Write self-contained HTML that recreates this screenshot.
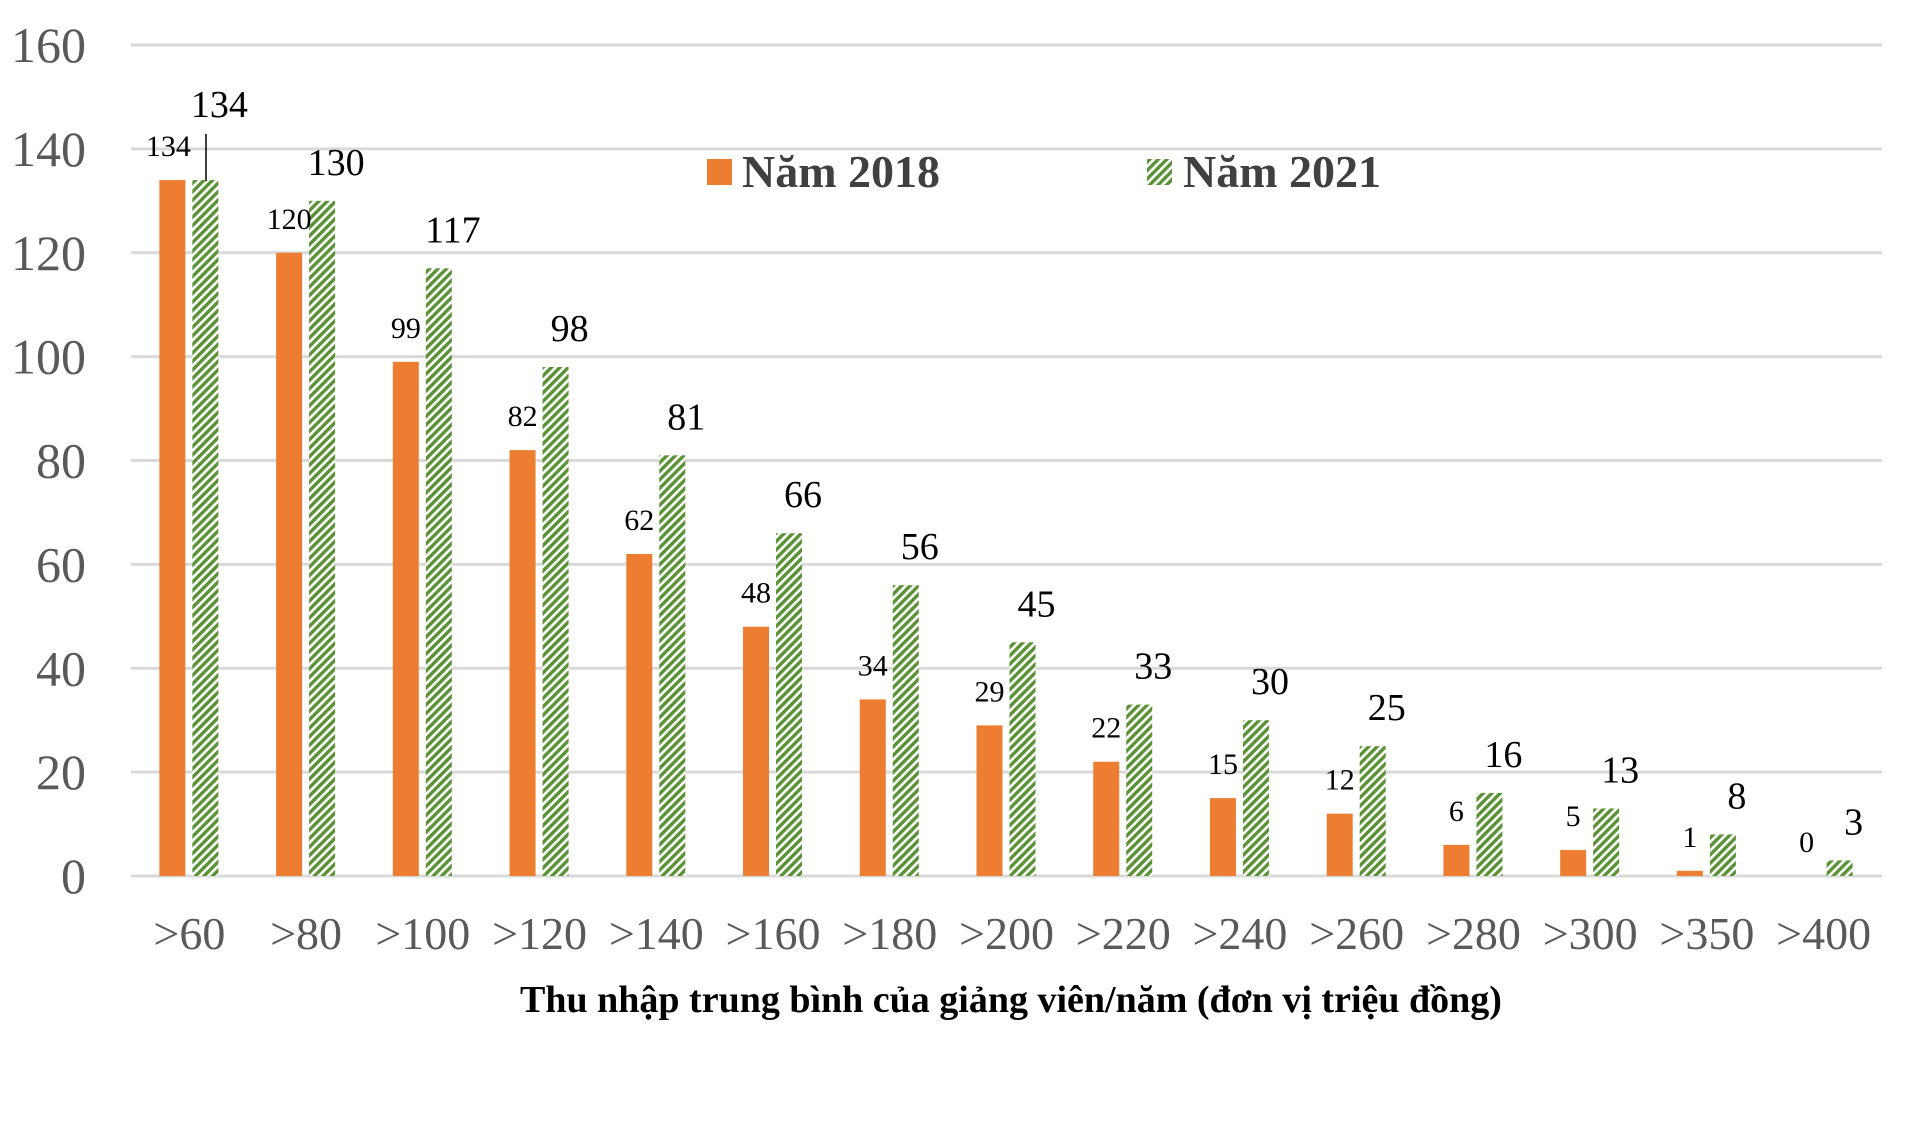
<!DOCTYPE html>
<html><head><meta charset="utf-8">
<style>
html,body{margin:0;padding:0;background:#fff;}
svg{display:block;font-family:"Liberation Serif",serif;}
</style></head>
<body>
<svg id="chart" width="1909" height="1135" viewBox="0 0 1909 1135" xmlns="http://www.w3.org/2000/svg">
<defs>
<pattern id="hatch" patternUnits="userSpaceOnUse" width="6" height="6" patternTransform="rotate(45)">
<rect width="6" height="6" fill="#fff"/>
<rect x="0" y="0" width="3.4" height="6" fill="#5b9235"/>
</pattern>
</defs>
<g id="grid"></g>
<g id="ylabels"></g>
<g id="bars"></g>
<g id="xlabels"></g>
<text x="1011" y="1012" text-anchor="middle" font-size="38" font-weight="bold" fill="#000">Thu nhập trung bình của giảng viên/năm (đơn vị triệu đồng)</text>
<g>
<rect x="707" y="159" width="25" height="26" fill="#ED7D31"/>
<text x="742" y="187" font-size="46" font-weight="bold" fill="#404040">Năm 2018</text>
<rect x="1147" y="159" width="25" height="26" fill="url(#hatch)"/>
<text x="1183" y="187" font-size="46" font-weight="bold" fill="#404040">Năm 2021</text>
</g>
<line x1="206" y1="134" x2="206" y2="181" stroke="#000" stroke-width="1.5"/>
</svg>
<script>
const categories = [">60",">80",">100",">120",">140",">160",">180",">200",">220",">240",">260",">280",">300",">350",">400"];
const values2018 = [134,120,99,82,62,48,34,29,22,15,12,6,5,1,0];
const values2021 = [134,130,117,98,81,66,56,45,33,30,25,16,13,8,3];
const yTicks = [0,20,40,60,80,100,120,140,160];

const NS = "http://www.w3.org/2000/svg";
const x0 = 131, x1 = 1882, yBase = 876, yTop = 45, yMax = 160;
const band = (x1 - x0) / categories.length;
const yScale = v => yBase - (v / yMax) * (yBase - yTop);
const xCenter = i => x0 + band * (i + 0.5);
function mk(tag, attrs, parent){ const e = document.createElementNS(NS, tag); for (const k in attrs) e.setAttribute(k, attrs[k]); parent.appendChild(e); return e; }

const grid = document.getElementById('grid');
const yl = document.getElementById('ylabels');
yTicks.forEach(t => {
  const l = mk('line', {x1:x0, x2:x1, y1:yScale(t), y2:yScale(t), stroke:'#d9d9d9', 'stroke-width':3}, grid);
  
  
  const tx = mk('text', {x:86, y:yScale(t)+17, 'text-anchor':'end', 'font-size':50, fill:'#595959'}, yl);
  tx.textContent = t;
  
  
});

const bars = document.getElementById('bars');
const xl = document.getElementById('xlabels');
const bw = 26;
categories.forEach((c, i) => {
  const cx = xCenter(i);
  const ox = cx - 30, gx = cx + 3;
  const v1 = values2018[i], v2 = values2021[i];
  const r1 = mk('rect', {x:ox, y:yScale(v1), width:bw, height:yBase - yScale(v1), fill:'#ED7D31'}, bars);
  
  
  const r2 = mk('rect', {x:gx, y:yScale(v2), width:bw, height:yBase - yScale(v2), fill:'url(#hatch)'}, bars);
  
  
  const t1 = mk('text', {x:ox + bw/2 - (i===0?4:0), y:yScale(v1) - 24, 'text-anchor':'middle', 'font-size':30, fill:'#000'}, bars);
  t1.textContent = v1;
  
  
  const t2 = mk('text', {x:gx + bw/2 + 14, y:(i===0 ? 117 : yScale(v2) - 26), 'text-anchor':'middle', 'font-size':38, fill:'#000'}, bars);
  t2.textContent = v2;
  
  
  const xt = mk('text', {x:cx, y:949, 'text-anchor':'middle', 'font-size':46, fill:'#595959'}, xl);
  xt.textContent = c;
  
  
});
</script>
</body></html>
